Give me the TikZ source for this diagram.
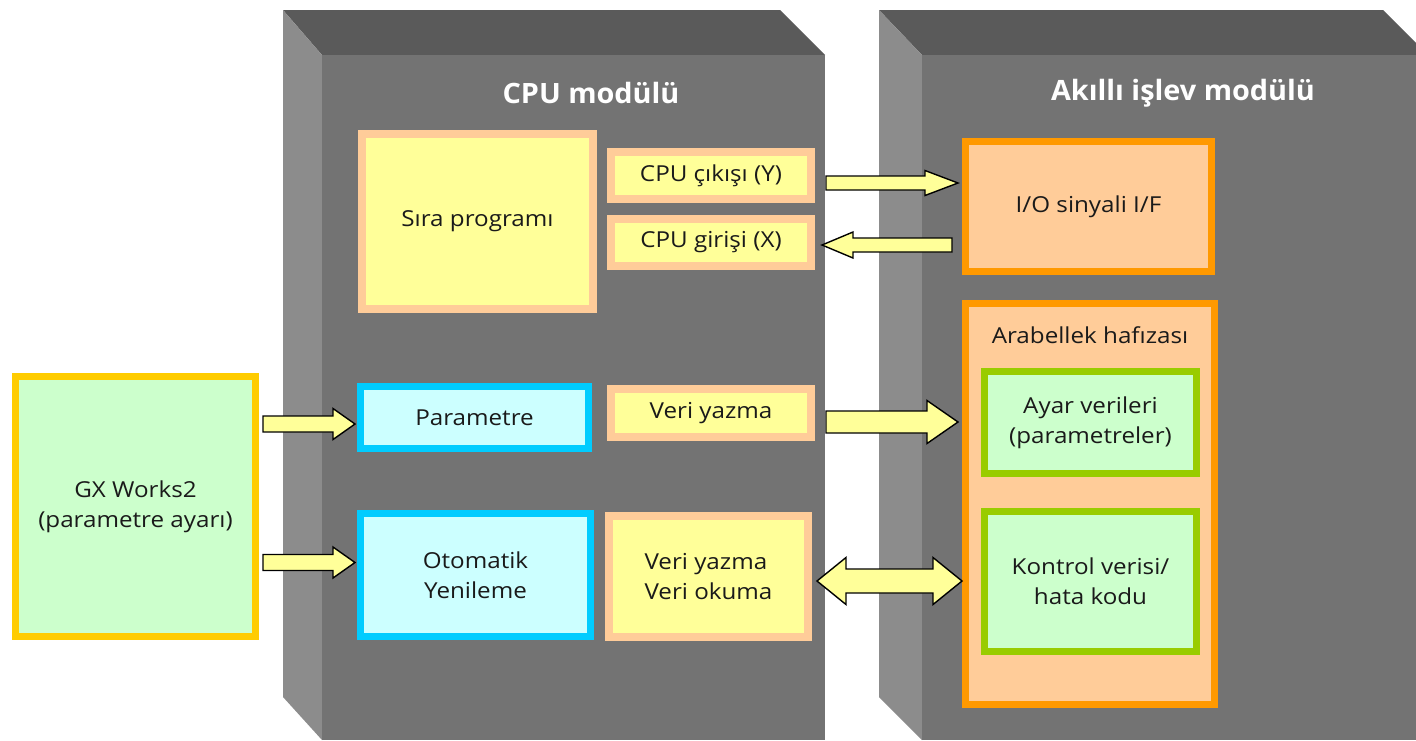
\documentclass[tikz,border=0pt]{standalone}
\usepackage{fontspec}
\setmainfont{Open Sans}[FakeStretch=1.1]
\newfontfamily\titlefont{Open Sans}[FakeStretch=1.03]
\usetikzlibrary{calc}
\definecolor{frontgray}{HTML}{737373}
\definecolor{sidegray}{HTML}{8C8C8C}
\definecolor{topgray}{HTML}{5A5A5A}
\definecolor{lyellow}{HTML}{FFFF99}
\definecolor{peach}{HTML}{FFCC99}
\definecolor{cyanb}{HTML}{00CCFF}
\definecolor{lcyan}{HTML}{CCFFFF}
\definecolor{gold}{HTML}{FFCC00}
\definecolor{lgreen}{HTML}{CCFFCC}
\definecolor{orangeb}{HTML}{FF9900}
\definecolor{greenb}{HTML}{99CC00}
\definecolor{txt}{HTML}{1A1A1A}
\tikzset{
  base/.style={rectangle, outer sep=0pt, inner sep=0pt, align=center, text=txt,
    font=\fontsize{22}{30}\selectfont},
  yellowbox/.style={base, draw=peach, fill=lyellow, line width=8pt},
  cyanbox/.style={base, draw=cyanb, fill=lcyan, line width=7pt},
  gxbox/.style={base, draw=gold, fill=lgreen, line width=7pt},
  orangebox/.style={base, draw=orangeb, fill=peach, line width=7pt},
  greenbox/.style={base, draw=greenb, fill=lgreen, line width=7pt},
  blockarrow/.style={draw=black, fill=lyellow, line width=1.4pt, line join=miter},
  titletext/.style={text=white, font=\titlefont\bfseries\fontsize{28}{32}\selectfont}
}
% right/left block arrow: #1 start, #2 tip, #3 shaft half, #4 head half, #5 signed head length
\newcommand{\blockarr}[5]{%
  \draw[blockarrow] let \p1=#1, \p2=#2 in
    (\x1,{\y1+#3pt}) -- ({\x2-(#5)*1pt},{\y1+#3pt}) -- ({\x2-(#5)*1pt},{\y1+#4pt})
    -- (\x2,\y1) -- ({\x2-(#5)*1pt},{\y1-#4pt}) -- ({\x2-(#5)*1pt},{\y1-#3pt})
    -- (\x1,{\y1-#3pt}) -- cycle;}
% double block arrow: #1 left tip, #2 right tip, #3 shaft half, #4 head half, #5 head length
\newcommand{\doublearr}[5]{%
  \draw[blockarrow] let \p1=#1, \p2=#2 in
    (\x1,\y1) -- ({\x1+#5pt},{\y1+#4pt}) -- ({\x1+#5pt},{\y1+#3pt})
    -- ({\x2-#5pt},{\y1+#3pt}) -- ({\x2-#5pt},{\y1+#4pt}) -- (\x2,\y1)
    -- ({\x2-#5pt},{\y1-#4pt}) -- ({\x2-#5pt},{\y1-#3pt})
    -- ({\x1+#5pt},{\y1-#3pt}) -- ({\x1+#5pt},{\y1-#4pt}) -- cycle;}
\begin{document}
\begin{tikzpicture}[x=1pt,y=-1pt]
\useasboundingbox (0,0) rectangle (1416,740);
\clip (0,0) rectangle (1416,740);
\fill[white] (0,0) rectangle (1416,740);
% CPU module
\fill[topgray] (283,10) -- (780,10) -- (825,55) -- (322,55) -- cycle;
\fill[sidegray] (283,10) -- (322,55) -- (322,740) -- (283,697) -- cycle;
\fill[frontgray] (322,55) rectangle (825,740);
% intelligent function module
\fill[topgray] (879,10) -- (1383,10) -- (1428,55) -- (922,55) -- cycle;
\fill[sidegray] (879,10) -- (922,55) -- (922,740) -- (879,697) -- cycle;
\fill[frontgray] (922,55) rectangle (1416,740);
\node[titletext] (cputitle) at (591,93) {CPU modülü};
\node[titletext] (iftitle) at (1183,93) {Akıllı işlev modülü};
% CPU boxes
\node[yellowbox, minimum width=231, minimum height=175] (sira) at (477.5,221.5) {Sıra programı};
\node[yellowbox, minimum width=200, minimum height=47] (cpuout) at (711,175.5) {CPU çıkışı (Y)};
\node[yellowbox, minimum width=200, minimum height=47] (cpuin) at (711,242.5) {CPU girişi (X)};
\node[cyanbox, minimum width=228, minimum height=62] (param) at (474.5,417.5) {Parametre};
\node[yellowbox, minimum width=200, minimum height=48] (vyaz) at (711,413) {Veri yazma};
\node[cyanbox, minimum width=230, minimum height=123] (oto) at (475.5,575) {Otomatik\\Yenileme};
\node[yellowbox, minimum width=199, minimum height=121, align=left] (vyo) at (708.5,576.5) {Veri yazma\\Veri okuma};
% GX Works2
\node[gxbox, minimum width=240, minimum height=260] (gx) at (135.5,506.5) {GX Works2\\(parametre ayarı)};
% intelligent module boxes
\node[orangebox, minimum width=246, minimum height=130] (io) at (1088.5,206.5) {I/O sinyali I/F};
\node[orangebox, minimum width=249, minimum height=401] (arab) at (1090,504) {};
\node[base] (arabtitle) at (1090,335) {Arabellek hafızası};
\node[greenbox, minimum width=212, minimum height=102] (ayar) at (1090.5,422.5) {Ayar verileri\\(parametreler)};
\node[greenbox, minimum width=212, minimum height=140] (kontrol) at (1090.5,581.5) {Kontrol verisi/\\hata kodu};
% arrows
\blockarr{($(cpuout.east)+(15,7.5)$)}{($(io.west)+(-7.5,0)$)}{7}{12.5}{33}
\blockarr{($(io.west)+(-13.5,38.5)$)}{($(cpuin.east)+(11,0)$)}{7}{13}{-31}
\blockarr{($(gx.east)+(7.5,-82.5)$)}{($(param.west)+(-5.5,0)$)}{8}{15.5}{22}
\blockarr{($(gx.east)+(7.5,56)$)}{($(oto.west)+(-5.5,0)$)}{8}{15.5}{22}
\blockarr{($(vyaz.east)+(15,9)$)}{($(ayar.west)+(-26.5,0)$)}{11}{21.5}{31}
\doublearr{($(vyo.east)+(9,4.5)$)}{($(kontrol.west)+(-22.5,0)$)}{12}{23.5}{29}
\end{tikzpicture}
\end{document}
